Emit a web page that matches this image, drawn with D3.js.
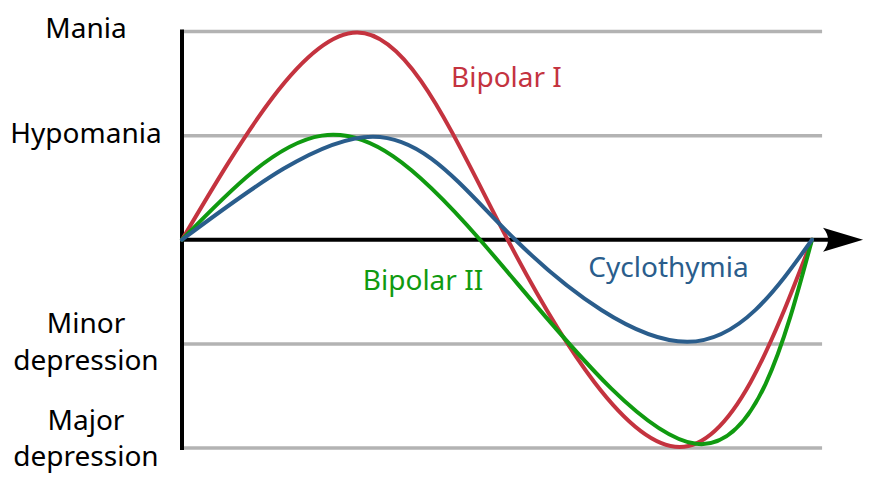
<!DOCTYPE html>
<html>
<head>
<meta charset="utf-8">
<script src="https://cdn.jsdelivr.net/npm/d3@7"></script>
<style>
  body { margin: 0; background: #fff; }
  svg text { font-family: "Noto Sans", "Open Sans", sans-serif; }
</style>
</head>
<body>
<div id="chart"></div>
<script>
// mood levels (y) and their names
const levels = [2, 1, 0, -1, -2];
const levelNames = [["Mania"], ["Hypomania"], [], ["Minor", "depression"], ["Major", "depression"]];

// time axis runs 0..100 over one cycle
const bipolar1 = [[0, 0], [27.8, 1.99], [51.7, 0], [79, -1.99], [100, 0]];
const bipolar2 = [[0, 0], [22.2, 1.0], [47.3, 0], [81.6, -1.96], [100, 0]];
const cyclothymia = [[0, 0], [30.3, 0.99], [52.9, 0], [80.2, -0.98], [100, 0]];

const seriesNames = ["Bipolar I", "Bipolar II", "Cyclothymia"];
const seriesColors = ["#c4333f", "#109a10", "#2a5d8c"];
const seriesData = [bipolar1, bipolar2, cyclothymia];
// where each series name is written (time, level)
const seriesLabelAt = [[42.7, 1.47], [28.7, -0.48], [64.5, -0.355]];

const width = 880, height = 480;
const svg = d3.select("#chart").append("svg")
  .attr("width", width)
  .attr("height", height);

const x = d3.scaleLinear().domain([0, 100]).range([182, 812]);
const y = d3.scaleLinear().domain([-2, 2]).range([448, 31.5]);

const gridEnd = 101.6;   // grid lines run a little past the cycle
const arrowEnd = 108.1;  // tip of the time arrow

// grey level lines
svg.selectAll("line.grid")
  .data(levels.filter(d => d !== 0))
  .enter().append("line")
  .attr("class", "grid")
  .attr("x1", x(0)).attr("x2", x(gridEnd))
  .attr("y1", d => y(d)).attr("y2", d => y(d))
  .attr("stroke", "#b3b3b3")
  .attr("stroke-width", 3.5);

// level names on the left
const nameOffsets = [[6], [7.5], [], [-11, 26], [-18, 18]];
levels.forEach((lv, i) => {
  levelNames[i].forEach((t, j) => {
    svg.append("text")
      .attr("x", 86)
      .attr("y", y(lv) + nameOffsets[i][j])
      .attr("text-anchor", "middle")
      .attr("font-size", 28)
      .attr("fill", "#000")
      .text(t);
  });
});

// vertical axis
svg.append("line")
  .attr("x1", x(0)).attr("x2", x(0))
  .attr("y1", y(2) - 2).attr("y2", y(-2) + 2)
  .attr("stroke", "#000")
  .attr("stroke-width", 4);

// time axis with arrow
svg.append("line")
  .attr("x1", x(0)).attr("x2", x(arrowEnd) - 20)
  .attr("y1", y(0)).attr("y2", y(0))
  .attr("stroke", "#000")
  .attr("stroke-width", 4);

const tip = x(arrowEnd), y0 = y(0);
svg.append("path")
  .attr("d", `M${tip},${y0} L${tip - 40},${y0 - 12} Q${tip - 30},${y0} ${tip - 40},${y0 + 12} Z`)
  .attr("fill", "#000");

// the three curves
const line = d3.line()
  .x(d => x(d[0]))
  .y(d => y(d[1]))
  .curve(d3.curveNatural);

svg.selectAll("path.series")
  .data(seriesData)
  .enter().append("path")
  .attr("class", "series")
  .attr("d", line)
  .attr("fill", "none")
  .attr("stroke", (d, i) => seriesColors[i])
  .attr("stroke-width", 4)
  .attr("stroke-linecap", "round");

svg.selectAll("text.series")
  .data(seriesNames)
  .enter().append("text")
  .attr("class", "series")
  .attr("x", (d, i) => x(seriesLabelAt[i][0]))
  .attr("y", (d, i) => y(seriesLabelAt[i][1]))
  .attr("font-size", 28)
  .attr("fill", (d, i) => seriesColors[i])
  .text(d => d);
</script>
</body>
</html>
